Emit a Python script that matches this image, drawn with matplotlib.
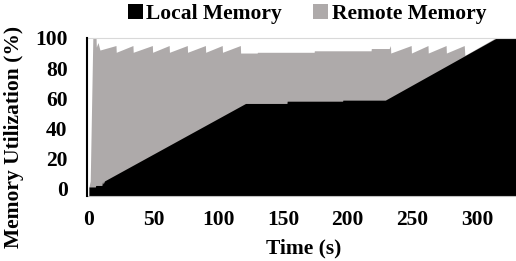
import matplotlib
matplotlib.use("Agg")
import matplotlib.pyplot as plt
from matplotlib.patches import Patch

plt.rcParams['font.family'] = 'Liberation Serif'
plt.rcParams['font.weight'] = 'bold'
plt.rcParams['font.size'] = 15.5

# total usage (local + remote), breakpoints
total_t = [0, 1, 3, 5.5, 5.7, 7, 8.5, 20.9, 21.1, 34, 34.2, 49, 49.2, 62, 62.2,
           76, 76.2, 90, 90.2, 103, 103.2, 117, 117.2, 130, 130.2, 174, 174.2,
           218, 218.2, 232, 233, 233.2, 249, 249.2, 262, 262.2, 276, 276.2,
           290, 290.5, 315, 330]
total_v = [1, 5, 100, 100, 94, 97, 92, 95, 90.5, 95, 90.5, 95, 90.5, 95, 90.5,
           95, 90.5, 95, 90.5, 95, 90.5, 95, 90, 90, 90.5, 90.5, 91.5,
           91.5, 93, 93, 95, 90, 95, 90, 95, 90, 95, 90,
           95, 88.5, 100.5, 100.5]

# local memory usage
local_t = [0, 5, 5.2, 10, 10.5, 11, 12, 121, 153, 153.2, 196, 196.2, 229, 315, 330]
local_v = [1, 1, 2, 2, 4.5, 3, 5, 56.5, 56.5, 58, 58, 58.7, 58.7, 100, 100]

xticks = [0, 50, 100, 150, 200, 250, 300]
yticks = [0, 20, 40, 60, 80, 100]

black = '#000000'
gray = '#AEAAAA'

fig = plt.figure(figsize=(5.16, 2.61), dpi=100)
ax = fig.add_axes([87 / 516, 1 - 196 / 261, 1 - 87 / 516, (196 - 38) / 261])

ymin = -5
ax.fill_between(total_t, ymin, total_v, color=gray, linewidth=0, zorder=1)
ax.fill_between(local_t, ymin, local_v, color=black, linewidth=0, zorder=2)

ax.set_xlim(-1.5, 330)
ax.set_ylim(ymin, 100)
ax.set_xticks(xticks)
ax.set_yticks(yticks)
ax.tick_params(length=0)
ax.tick_params(axis='y', pad=14)
ax.tick_params(axis='x', pad=10)

ax.spines['right'].set_visible(False)
ax.spines['top'].set_color('#D9D9D9')
ax.spines['bottom'].set_color('#BFBFBF')
ax.spines['left'].set_color('black')
ax.spines['left'].set_linewidth(1.5)
ax.spines['left'].set_zorder(3)

fig.text(303.5 / 516, 1 - 248 / 261, 'Time (s)', ha='center', va='center')
fig.text(14 / 516, 1 - 137 / 261, 'Memory Utilization (%)', rotation=90,
         ha='center', va='center')

handles = [Patch(facecolor=black, label='Local Memory'),
           Patch(facecolor=gray, label='Remote Memory')]
fig.legend(handles=handles, loc='center', bbox_to_anchor=(307 / 516, 1 - 14 / 261),
           ncol=2, frameon=False, handlelength=0.7, handleheight=0.7,
           handletextpad=0.15, columnspacing=1.45, borderpad=0, borderaxespad=0)

fig.savefig('out.png', dpi=100)
